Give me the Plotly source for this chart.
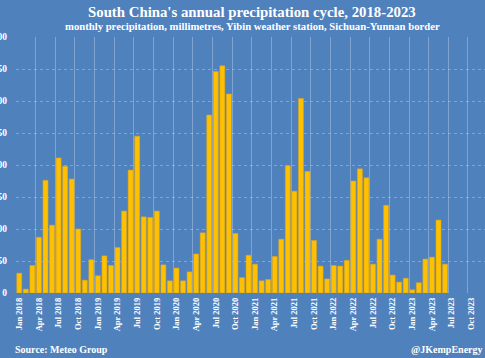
import plotly.graph_objects as go

months = ["Jan", "Feb", "Mar", "Apr", "May", "Jun", "Jul", "Aug", "Sep", "Oct", "Nov", "Dec"]
years = [2018, 2019, 2020, 2021, 2022, 2023]
categories = [f"{m} {y}" for y in years for m in months]

precip_2018 = [31, 6, 43, 87, 176, 106, 211, 198, 178, 100, 20, 52]
precip_2019 = [27, 58, 43, 71, 128, 192, 245, 119, 118, 128, 44, 19]
precip_2020 = [39, 19, 33, 61, 94, 278, 346, 355, 311, 93, 24, 59]
precip_2021 = [45, 19, 21, 57, 84, 199, 159, 304, 190, 82, 42, 22]
precip_2022 = [43, 42, 51, 175, 194, 180, 45, 84, 137, 28, 17, 23]
precip_2023 = [5, 16, 53, 56, 114, 45, None, None, None, None, None, None]

values = precip_2018 + precip_2019 + precip_2020 + precip_2021 + precip_2022 + precip_2023

y_ticks = [0, 50, 100, 150, 200, 250, 300, 350, 400]

SERIF = "Liberation Serif"
BG = "#4F81BD"
GRID = "rgba(255,255,255,0.28)"

fig = go.Figure()
fig.add_trace(go.Bar(
    x=categories,
    y=values,
    marker=dict(color="#FFC000", line=dict(color="#D9A520", width=0.6)),
    width=0.76,
    hoverinfo="skip",
))

fig.update_layout(
    template="none",
    width=485,
    height=358,
    margin=dict(l=16, r=0, t=37, b=65),
    paper_bgcolor=BG,
    plot_bgcolor=BG,
    showlegend=False,
    xaxis=dict(
        type="category",
        categoryorder="array",
        categoryarray=categories,
        range=[-0.5, 71.1],
        tickmode="linear",
        tick0=0,
        dtick=3,
        tickson="boundaries",
        showgrid=True,
        gridcolor=GRID,
        gridwidth=1,
        ticks="",
        tickangle=-90,
        ticklabelstandoff=2,
        tickfont=dict(family=SERIF, size=8.5, color="white", weight="bold"),
        showline=False,
        zeroline=False,
        automargin=False,
    ),
    yaxis=dict(
        range=[0, 400],
        tickvals=y_ticks,
        showgrid=True,
        gridcolor=GRID,
        griddash="dot",
        gridwidth=1,
        ticks="",
        ticklabelstandoff=8,
        tickfont=dict(family=SERIF, size=9.5, color="white", weight="bold"),
        showline=False,
        zeroline=False,
        automargin=False,
    ),
    annotations=[
        dict(text="South China's annual precipitation cycle, 2018-2023",
             xref="paper", yref="paper", x=(252 - 16) / 469, y=1 + (37 - 12) / 256,
             xanchor="center", yanchor="middle", showarrow=False,
             font=dict(family=SERIF, size=14.8, color="white", weight="bold")),
        dict(text="monthly precipitation, millimetres, Yibin weather station, Sichuan-Yunnan border",
             xref="paper", yref="paper", x=(252 - 16) / 469, y=1 + (37 - 25.5) / 256,
             xanchor="center", yanchor="middle", showarrow=False,
             font=dict(family=SERIF, size=10.7, color="white", weight="bold")),
        dict(text="Source: Meteo Group",
             xref="paper", yref="paper", x=(13 - 16) / 469, y=-(349 - 293) / 256,
             xanchor="left", yanchor="middle", showarrow=False,
             font=dict(family=SERIF, size=10, color="white", weight="bold")),
        dict(text="@JKempEnergy",
             xref="paper", yref="paper", x=1.0, y=-(349 - 293) / 256,
             xanchor="right", yanchor="middle", showarrow=False,
             font=dict(family=SERIF, size=10, color="white", weight="bold")),
    ],
)

fig.write_html(
    "out.html",
    config={"displayModeBar": False},
    post_script="document.body.style.margin='0';document.body.style.overflow='hidden';",
)
